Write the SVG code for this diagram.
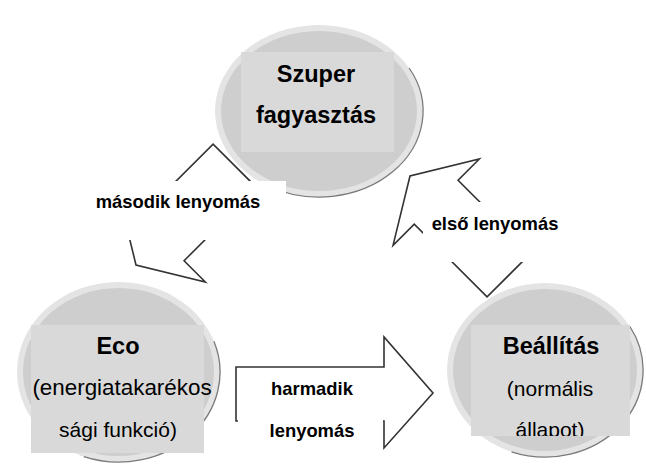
<svg xmlns="http://www.w3.org/2000/svg" width="646" height="464" viewBox="0 0 646 464">
<defs>
<style>
.arrow{fill:#fff;stroke:#333;stroke-width:1.6;stroke-linejoin:miter}
.rim{fill:#e4e4e4}
.disc{fill:#cecece}
.edge{fill:none;stroke:#7a7a7a;stroke-width:1.3}
.panel{fill:#d9d9d9}
.lbl{fill:#fff}
text{font-family:"Liberation Sans",Arial,sans-serif;fill:#000;text-anchor:middle}
.b{font-weight:bold}
.nt{font-size:23.5px;font-weight:bold}
.nr{font-size:21px}
.ct{font-size:18.4px;font-weight:bold}
</style>
<polygon id="blk" points="0,-31 103,-31 103,-61 140,0 103,61 103,31 0,31"/>
<clipPath id="clipB"><rect x="471" y="325" width="159" height="111"/></clipPath>
</defs>
<rect width="646" height="464" fill="#fff"/>
<g id="connectors">
<use href="#blk" class="arrow" transform="translate(509,275) rotate(-135)"/>
<use href="#blk" class="arrow" transform="translate(235,166) rotate(135)"/>
<polygon class="arrow" points="236,367 384,367 384,337 433,393 384,448 384,421 236,421"/>
</g>
<g id="node-szuper">
<ellipse class="rim" cx="319" cy="111" rx="104" ry="86"/>
<ellipse class="disc" cx="319" cy="111" rx="98" ry="80"/>
<path class="edge" d="M409.1 68 A104 86 0 0 1 267 185.5"/>
<rect class="panel" x="241" y="52" width="153" height="100"/>
<text class="nt" x="316" y="82">Szuper</text>
<text class="nt" x="316" y="123">fagyasztás</text>
</g>
<g id="node-eco">
<ellipse class="rim" cx="118.5" cy="372" rx="101.5" ry="90"/>
<ellipse class="disc" cx="118.5" cy="372" rx="95.5" ry="84"/>
<path class="edge" d="M213.9 341.2 A101.5 90 0 0 1 83.8 456.6"/>
<rect class="panel" x="31" y="325" width="173" height="128"/>
<text class="nt" x="118" y="354">Eco</text>
<text x="122" y="395" style="font-size:22.4px">(energiatakarékos</text>
<text class="nr" x="118" y="437">sági funkció)</text>
</g>
<g id="node-beallitas">
<ellipse class="rim" cx="545" cy="370" rx="98" ry="87"/>
<ellipse class="disc" cx="545" cy="370" rx="92" ry="81"/>
<path class="edge" d="M629.9 326.5 A98 87 0 0 1 511.5 451.8"/>
<rect class="panel" x="471" y="325" width="159" height="111"/>
<text class="nt" x="551" y="354">Beállítás</text>
<text class="nr" x="550" y="396">(normális</text>
<text class="nr" x="550" y="437" clip-path="url(#clipB)">állapot)</text>
</g>
<g id="connector-labels">
<rect class="lbl" x="72" y="181" width="214" height="59"/>
<text class="ct" x="178" y="208">második lenyomás</text>
<rect class="lbl" x="423" y="202" width="140" height="60"/>
<text class="ct" x="495" y="230">első lenyomás</text>
<rect class="lbl" x="238" y="371" width="145" height="92"/>
<text class="ct" x="312" y="395">harmadik</text>
<text class="ct" x="312" y="437">lenyomás</text>
</g>
</svg>
